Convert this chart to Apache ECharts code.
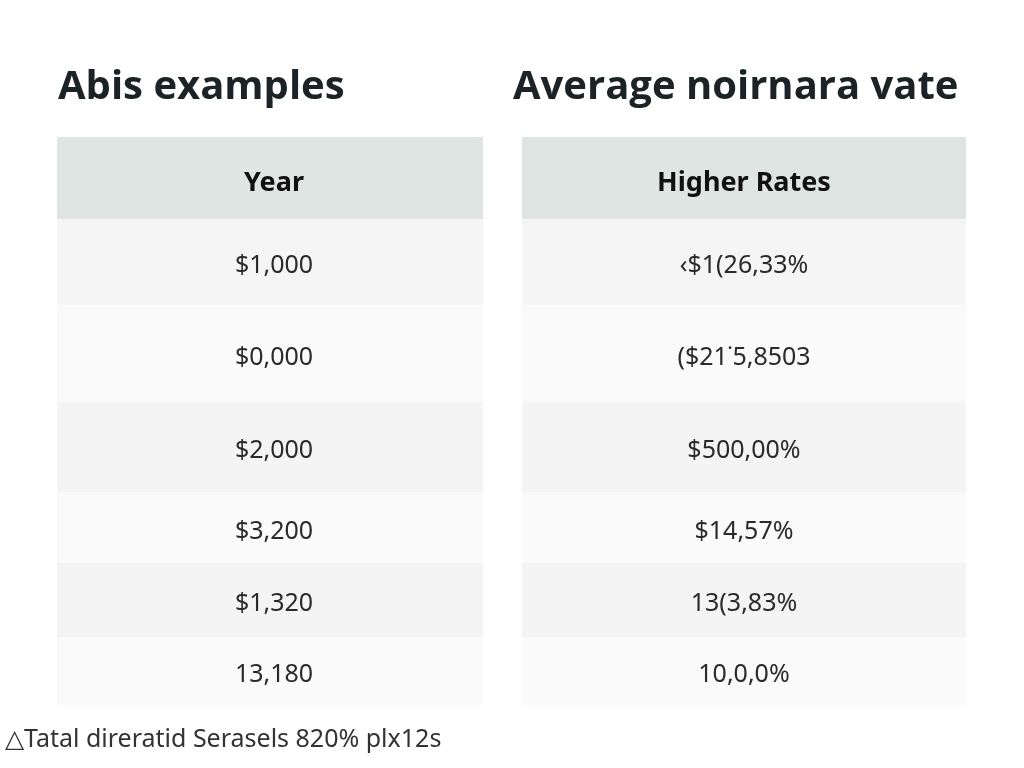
<!DOCTYPE html>
<html>
<head>
<meta charset="utf-8">
<script src="https://cdn.jsdelivr.net/npm/echarts@6/dist/echarts.min.js"></script>
<style>html,body{margin:0;padding:0;background:#fff}#chart{width:1024px;height:768px}</style>
</head>
<body>
<div id="chart"></div>
<script>
// table content
var titles = ['Abis examples', 'Average noirnara vate'];
var headers = ['Year', 'Higher Rates'];
var yearCol = ['$1,000', '$0,000', '$2,000', '$3,200', '$1,320', '13,180'];
var rateCol = ['\u2039$1(26,33%', '($21\u02d95,8503', '$500,00%', '$14,57%', '13(3,83%', '10,0,0%'];
var footer = '\u25b3Tatal direratid Serasels 820% plx12s';

// layout (pixels)
var colEdges = [[57, 483], [522, 966]];
var rowEdges = [137, 219, 305, 402, 492, 563, 637, 705];
var rowFill = ['#dfe5e2', '#f5f5f5', '#fafafa', '#f4f4f4', '#fafafa', '#f4f4f4', '#fafafa'];

var cells = [];
[headers.slice(0, 1).concat(yearCol), headers.slice(1).concat(rateCol)].forEach(function (col, c) {
  col.forEach(function (txt, r) { cells.push([c, r, txt]); });
});

var chart = echarts.init(document.getElementById('chart'));
chart.setOption({
  animation: false,
  grid: {left: 0, right: 0, top: 137, bottom: 63},
  xAxis: {type: 'value', min: 0, max: 1024, show: false},
  yAxis: {type: 'value', min: 137, max: 705, inverse: true, show: false},
  graphic: [
    {type: 'text', left: 58, top: 68, style: {text: titles[0], font: 'bold 40px "Open Sans"', fill: '#1c2326'}},
    {type: 'text', left: 513, top: 68, style: {text: titles[1], font: 'bold 40px "Open Sans"', fill: '#1c2326'}},
    {type: 'text', left: 5, top: 727, style: {text: footer, font: '25px "Noto Sans"', fill: '#333'}}
  ],
  series: [{
    type: 'custom',
    coordinateSystem: 'cartesian2d',
    data: cells,
    encode: {x: 0, y: 1},
    renderItem: function (params, api) {
      var c = api.value(0), r = api.value(1);
      var p0 = api.coord([colEdges[c][0], rowEdges[r]]);
      var p1 = api.coord([colEdges[c][1], rowEdges[r + 1]]);
      var head = r === 0;
      return {
        type: 'group',
        children: [
          {type: 'rect', shape: {x: p0[0], y: p0[1], width: p1[0] - p0[0], height: p1[1] - p0[1]},
           style: {fill: rowFill[r]}},
          {type: 'text', x: (p0[0] + p1[0]) / 2 + (c === 0 ? 4 : 0), y: (p0[1] + p1[1]) / 2 + (head ? 5 : 4),
           style: {text: cells[params.dataIndex][2], align: 'center', verticalAlign: 'middle',
                   font: head ? 'bold 27px "Noto Sans"' : '25px "Noto Sans"', fill: head ? '#111' : '#2a2a2a'}}
        ]
      };
    }
  }]
});
</script>
</body>
</html>
